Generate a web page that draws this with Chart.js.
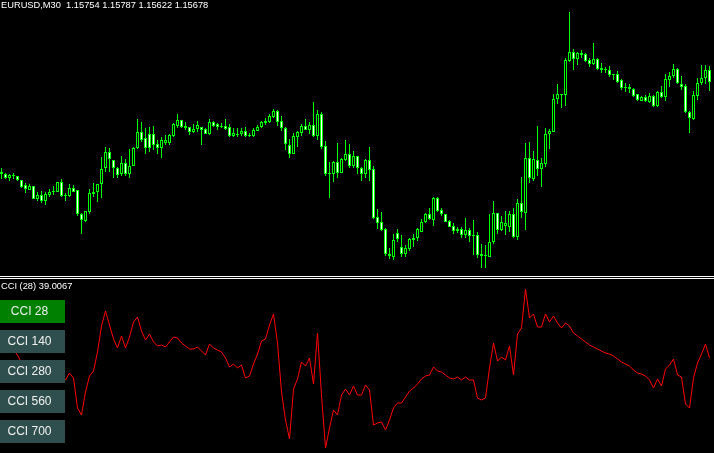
<!DOCTYPE html>
<html>
<head>
<meta charset="utf-8">
<script src="https://cdn.jsdelivr.net/npm/chart.js@4.4.1/dist/chart.umd.min.js"></script>
<style>
  body { margin: 0; background: #000; width: 714px; height: 453px; overflow: hidden; position: relative; font-family: "Liberation Sans", Arial, sans-serif; }
  #price { position: absolute; left: 0; top: 0; }
  #cci { position: absolute; left: 0; top: 281px; }
  .sep { position: absolute; left: 0; width: 714px; height: 1px; background: #fff; }
  .label { position: absolute; left: 1px; color: #fff; font-size: 9.3px; line-height: 9px; white-space: pre; }
  .btn { position: absolute; left: 0; width: 59px; padding-right: 6px; height: 23px; line-height: 23px; text-align: center; color: #f0f0f0; font-size: 12px; background: #2f4f4f; }
  .btn.on { background: #008000; }
</style>
</head>
<body>
<canvas id="price" width="714" height="275"></canvas>
<div class="sep" style="top:276px"></div>
<div class="sep" style="top:278px"></div>
<canvas id="cci" width="714" height="172"></canvas>
<div class="label" style="top:1px">EURUSD,M30  1.15754 1.15787 1.15622 1.15678</div>
<div class="label" style="top:282px">CCI (28) 39.0067</div>
<div id="buttons"></div>
<script>
// EURUSD M30 bars, oldest first
let opens = [
  1.1476, 1.1476, 1.1472, 1.1474, 1.1474, 1.1470, 1.1465, 1.1460, 1.1464, 1.1451,
  1.1455, 1.1449, 1.1455, 1.1458, 1.1458, 1.1468, 1.1455, 1.1454, 1.1462, 1.1460,
  1.1436, 1.1429, 1.1438, 1.1456, 1.1458, 1.1466, 1.1482, 1.1498, 1.1490, 1.1482,
  1.1476, 1.1487, 1.1476, 1.1484, 1.1502, 1.1518, 1.1512, 1.1516, 1.1516, 1.1506,
  1.1502, 1.1507, 1.1507, 1.1514, 1.1524, 1.1530, 1.1524, 1.1523, 1.1518, 1.1521,
  1.1523, 1.1521, 1.1516, 1.1528, 1.1526, 1.1523, 1.1524, 1.1523, 1.1514, 1.1516,
  1.1516, 1.1519, 1.1515, 1.1514, 1.1519, 1.1523, 1.1527, 1.1528, 1.1533, 1.1539,
  1.1529, 1.1522, 1.1505, 1.1496, 1.1513, 1.1517, 1.1524, 1.1520, 1.1525, 1.1514,
  1.1536, 1.1504, 1.1477, 1.1476, 1.1488, 1.1477, 1.1490, 1.1496, 1.1484, 1.1494,
  1.1482, 1.1476, 1.1490, 1.1481, 1.1433, 1.1428, 1.1421, 1.1396, 1.1393, 1.1417,
  1.1403, 1.1396, 1.1401, 1.1410, 1.1412, 1.1418, 1.1428, 1.1436, 1.1430, 1.1452,
  1.1440, 1.1436, 1.1429, 1.1424, 1.1421, 1.1421, 1.1415, 1.1420, 1.1415, 1.1415,
  1.1394, 1.1395, 1.1393, 1.1408, 1.1437, 1.1420, 1.1424, 1.1423, 1.1436, 1.1413,
  1.1447, 1.1437, 1.1492, 1.1471, 1.1490, 1.1481, 1.1486, 1.1516, 1.1518, 1.1551,
  1.1556, 1.1555, 1.1589, 1.1598, 1.1591, 1.1597, 1.1596, 1.1590, 1.1586, 1.1591,
  1.1582, 1.1581, 1.1580, 1.1576, 1.1576, 1.1570, 1.1563, 1.1563, 1.1561, 1.1556,
  1.1549, 1.1553, 1.1548, 1.1554, 1.1544, 1.1558, 1.1553, 1.1570, 1.1574, 1.1581,
  1.1566, 1.1564, 1.1538, 1.1531, 1.1554, 1.1567, 1.1572, 1.1580
]
let highs = [
  1.1482, 1.1477, 1.1476, 1.1477, 1.1474, 1.1470, 1.1467, 1.1466, 1.1464, 1.1458,
  1.1459, 1.1458, 1.1461, 1.1464, 1.1468, 1.1471, 1.1457, 1.1466, 1.1465, 1.1460,
  1.1437, 1.1439, 1.1461, 1.1467, 1.1466, 1.1493, 1.1503, 1.1502, 1.1490, 1.1483,
  1.1494, 1.1491, 1.1501, 1.1503, 1.1531, 1.1528, 1.1522, 1.1523, 1.1524, 1.1510,
  1.1513, 1.1515, 1.1516, 1.1527, 1.1536, 1.1530, 1.1528, 1.1523, 1.1526, 1.1529,
  1.1523, 1.1522, 1.1531, 1.1529, 1.1527, 1.1527, 1.1531, 1.1526, 1.1522, 1.1522,
  1.1522, 1.1523, 1.1517, 1.1522, 1.1525, 1.1529, 1.1532, 1.1536, 1.1541, 1.1540,
  1.1534, 1.1523, 1.1511, 1.1517, 1.1519, 1.1526, 1.1531, 1.1528, 1.1548, 1.1540,
  1.1538, 1.1509, 1.1488, 1.1489, 1.1507, 1.1492, 1.1510, 1.1506, 1.1499, 1.1494,
  1.1483, 1.1491, 1.1503, 1.1484, 1.1441, 1.1438, 1.1422, 1.1402, 1.1416, 1.1421,
  1.1415, 1.1405, 1.1412, 1.1416, 1.1422, 1.1431, 1.1437, 1.1442, 1.1453, 1.1453,
  1.1442, 1.1436, 1.1430, 1.1427, 1.1423, 1.1423, 1.1432, 1.1422, 1.1430, 1.1418,
  1.1406, 1.1405, 1.1436, 1.1449, 1.1437, 1.1434, 1.1439, 1.1439, 1.1442, 1.1451,
  1.1473, 1.1507, 1.1508, 1.1499, 1.1524, 1.1492, 1.1522, 1.1521, 1.1556, 1.1566,
  1.1556, 1.1592, 1.1638, 1.1601, 1.1598, 1.1600, 1.1597, 1.1592, 1.1607, 1.1592,
  1.1587, 1.1583, 1.1584, 1.1576, 1.1579, 1.1571, 1.1567, 1.1566, 1.1562, 1.1556,
  1.1554, 1.1555, 1.1557, 1.1555, 1.1559, 1.1564, 1.1576, 1.1578, 1.1586, 1.1582,
  1.1574, 1.1566, 1.1539, 1.1559, 1.1572, 1.1585, 1.1585, 1.1584
]
let lows = [
  1.1471, 1.1471, 1.1469, 1.1471, 1.1469, 1.1462, 1.1457, 1.1460, 1.1451, 1.1449,
  1.1447, 1.1445, 1.1453, 1.1455, 1.1458, 1.1453, 1.1449, 1.1453, 1.1458, 1.1434,
  1.1416, 1.1428, 1.1436, 1.1453, 1.1448, 1.1452, 1.1478, 1.1478, 1.1472, 1.1472,
  1.1474, 1.1474, 1.1472, 1.1484, 1.1501, 1.1508, 1.1496, 1.1498, 1.1500, 1.1496,
  1.1492, 1.1505, 1.1505, 1.1513, 1.1522, 1.1522, 1.1520, 1.1515, 1.1517, 1.1518,
  1.1505, 1.1516, 1.1515, 1.1523, 1.1520, 1.1522, 1.1520, 1.1513, 1.1513, 1.1513,
  1.1514, 1.1513, 1.1513, 1.1513, 1.1519, 1.1522, 1.1525, 1.1527, 1.1532, 1.1524,
  1.1519, 1.1500, 1.1492, 1.1496, 1.1503, 1.1514, 1.1520, 1.1516, 1.1513, 1.1510,
  1.1501, 1.1474, 1.1452, 1.1468, 1.1472, 1.1477, 1.1489, 1.1482, 1.1482, 1.1476,
  1.1469, 1.1472, 1.1469, 1.1431, 1.1421, 1.1419, 1.1394, 1.1391, 1.1390, 1.1408,
  1.1393, 1.1393, 1.1399, 1.1403, 1.1409, 1.1418, 1.1427, 1.1430, 1.1424, 1.1438,
  1.1434, 1.1428, 1.1423, 1.1416, 1.1417, 1.1412, 1.1412, 1.1408, 1.1395, 1.1392,
  1.1382, 1.1382, 1.1393, 1.1406, 1.1416, 1.1419, 1.1415, 1.1418, 1.1412, 1.1410,
  1.1432, 1.1420, 1.1467, 1.1469, 1.1474, 1.1463, 1.1483, 1.1501, 1.1518, 1.1546,
  1.1542, 1.1544, 1.1588, 1.1580, 1.1585, 1.1592, 1.1588, 1.1583, 1.1585, 1.1580,
  1.1577, 1.1577, 1.1573, 1.1570, 1.1567, 1.1560, 1.1558, 1.1557, 1.1553, 1.1549,
  1.1549, 1.1548, 1.1547, 1.1543, 1.1543, 1.1552, 1.1549, 1.1563, 1.1572, 1.1566,
  1.1560, 1.1537, 1.1517, 1.1530, 1.1550, 1.1565, 1.1566, 1.1559
]
let closes = [
  1.1478, 1.1472, 1.1475, 1.1475, 1.1470, 1.1463, 1.1461, 1.1464, 1.1451, 1.1455,
  1.1449, 1.1456, 1.1458, 1.1459, 1.1468, 1.1454, 1.1454, 1.1462, 1.1458, 1.1436,
  1.1430, 1.1439, 1.1457, 1.1458, 1.1466, 1.1481, 1.1498, 1.1491, 1.1482, 1.1475,
  1.1487, 1.1476, 1.1484, 1.1502, 1.1518, 1.1510, 1.1502, 1.1502, 1.1505, 1.1502,
  1.1510, 1.1510, 1.1515, 1.1526, 1.1530, 1.1523, 1.1522, 1.1518, 1.1521, 1.1525,
  1.1520, 1.1516, 1.1528, 1.1524, 1.1523, 1.1524, 1.1521, 1.1514, 1.1517, 1.1515,
  1.1519, 1.1514, 1.1514, 1.1520, 1.1523, 1.1528, 1.1529, 1.1534, 1.1539, 1.1528,
  1.1522, 1.1506, 1.1496, 1.1514, 1.1518, 1.1524, 1.1520, 1.1525, 1.1514, 1.1536,
  1.1503, 1.1476, 1.1476, 1.1488, 1.1477, 1.1491, 1.1496, 1.1484, 1.1494, 1.1482,
  1.1476, 1.1490, 1.1480, 1.1432, 1.1427, 1.1420, 1.1396, 1.1394, 1.1410, 1.1411,
  1.1396, 1.1402, 1.1411, 1.1412, 1.1421, 1.1428, 1.1436, 1.1431, 1.1452, 1.1439,
  1.1436, 1.1428, 1.1423, 1.1419, 1.1419, 1.1415, 1.1420, 1.1414, 1.1414, 1.1395,
  1.1396, 1.1394, 1.1408, 1.1437, 1.1420, 1.1428, 1.1427, 1.1436, 1.1413, 1.1447,
  1.1438, 1.1492, 1.1472, 1.1491, 1.1481, 1.1487, 1.1516, 1.1519, 1.1551, 1.1556,
  1.1555, 1.1590, 1.1598, 1.1591, 1.1597, 1.1595, 1.1589, 1.1586, 1.1591, 1.1581,
  1.1580, 1.1580, 1.1575, 1.1575, 1.1568, 1.1562, 1.1562, 1.1561, 1.1554, 1.1550,
  1.1553, 1.1549, 1.1554, 1.1544, 1.1558, 1.1553, 1.1571, 1.1574, 1.1581, 1.1567,
  1.1563, 1.1538, 1.1532, 1.1555, 1.1567, 1.1572, 1.1580, 1.1568
]
// CCI(28), one value per bar
let cciValues = [
  93, 84, 72, 63, 48, 24, 3, -12, -21, -27,
  -30, -24, -12, -3, 3, -9, -27, -6, -21, -111,
  -132, -63, -15, 0, 57, 135, 180, 138, 96, 69,
  105, 69, 102, 147, 162, 120, 93, 111, 87, 75,
  78, 72, 87, 102, 99, 84, 75, 66, 66, 72,
  60, 48, 81, 69, 63, 57, 39, 12, 21, 9,
  18, -21, -15, 21, 51, 90, 96, 138, 171, 84,
  -63, -147, -204, -54, -24, 27, 15, 39, -39, 114,
  -72, -231, -171, -117, -132, -72, -54, -72, -45, -72,
  -72, -42, -57, -162, -156, -153, -177, -147, -111, -96,
  -96, -78, -60, -51, -39, -24, -15, -12, 12, 0,
  -3, -12, -21, -24, -18, -27, -18, -27, -27, -81,
  -87, -81, 9, 84, 30, 42, 33, 75, -12, 111,
  129, 246, 159, 171, 132, 132, 171, 147, 165, 144,
  129, 144, 135, 114, 105, 96, 87, 78, 72, 66,
  60, 54, 51, 45, 36, 27, 21, 15, 3, -6,
  -9, -15, -27, -51, -24, -45, 6, 18, 36, -12,
  -18, -99, -111, -21, 24, 51, 81, 39.0067
]
let buttonLabels = ["CCI 28", "CCI 140", "CCI 280", "CCI 560", "CCI 700"]

let buttonBox = document.getElementById("buttons")
buttonLabels.forEach((label, i) => {
  let b = document.createElement("div")
  b.className = i === 0 ? "btn on" : "btn"
  b.style.top = (300 + i * 30) + "px"
  b.textContent = label
  buttonBox.appendChild(b)
})

let xScale = { type: "linear", display: false, offset: false, min: -0.375, max: 178.125 }

let wicks = lows.map((low, i) => ({ x: i, y: [low, highs[i]] }))
let bodies = opens.map((open, i) => ({ x: i, y: [open, closes[i]] }))
let bodyColors = opens.map((open, i) => closes[i] < open ? "#ffffff" : "#000000")

new Chart(document.getElementById("price"), {
  type: "bar",
  data: {
    datasets: [{
      data: bodies,
      order: 0,
      grouped: false,
      barThickness: 3,
      borderWidth: 1,
      borderColor: "#00ff00",
      borderSkipped: false,
      backgroundColor: bodyColors,
      inflateAmount: 0,
      minBarLength: 1
    },
    {
      data: wicks,
      order: 1,
      grouped: false,
      barThickness: 1,
      borderWidth: 0,
      backgroundColor: "#00ff00",
      inflateAmount: 0
    }]
  },
  options: {
    responsive: false,
    animation: false,
    layout: { padding: 0 },
    plugins: { legend: { display: false }, tooltip: { enabled: false } },
    scales: {
      x: xScale,
      y: { display: false, min: 1.1375, max: 1.1650 }
    }
  }
})

new Chart(document.getElementById("cci"), {
  type: "line",
  data: {
    datasets: [{
      data: cciValues.map((v, i) => ({ x: i, y: v })),
      borderColor: "#ff0000",
      borderWidth: 1,
      pointRadius: 0,
      tension: 0,
      fill: false
    }]
  },
  options: {
    responsive: false,
    animation: false,
    layout: { padding: 0 },
    plugins: { legend: { display: false }, tooltip: { enabled: false } },
    scales: {
      x: xScale,
      y: { display: false, min: -246, max: 270 }
    }
  }
})
</script>
</body>
</html>
